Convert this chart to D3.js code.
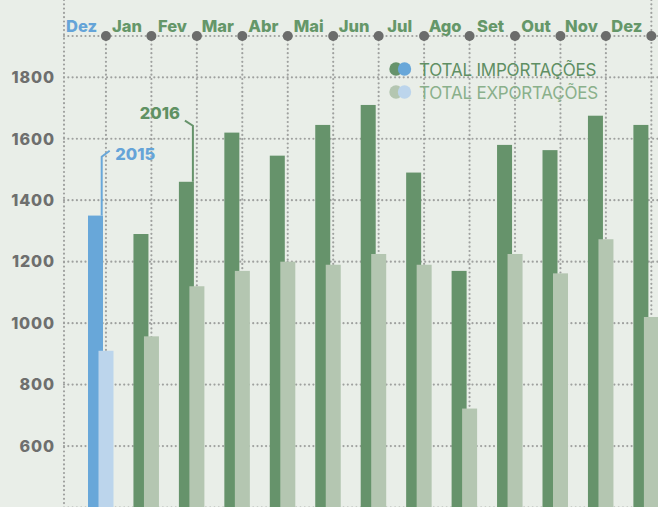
<!DOCTYPE html>
<html lang="pt">
<head>
<meta charset="UTF-8">
<title>Importações e exportações</title>
<script src="https://cdn.jsdelivr.net/npm/d3@7"></script>
<style>
  html, body { margin: 0; padding: 0; background: #e9eee8; }
  svg { display: block; }
  text { font-family: Inter, "Open Sans", sans-serif; }
</style>
</head>
<body>
<div id="chart"></div>
<script>
// months: Dez/2015 + Jan..Dez/2016
const months = ["Dez", "Jan", "Fev", "Mar", "Abr", "Mai", "Jun", "Jul", "Ago", "Set", "Out", "Nov", "Dez"];
const years = [2015, 2016, 2016, 2016, 2016, 2016, 2016, 2016, 2016, 2016, 2016, 2016, 2016];
const importacoes = [1350, 1290, 1460, 1620, 1545, 1645, 1710, 1490, 1170, 1580, 1563, 1675, 1645];
const exportacoes = [910, 957, 1120, 1170, 1200, 1190, 1225, 1190, 722, 1225, 1162, 1273, 1020];
const yTicks = [600, 800, 1000, 1200, 1400, 1600, 1800];
const gridTicks = [400, 600, 800, 1000, 1200, 1400, 1600, 1800];
const legendLabels = ["TOTAL IMPORTAÇÕES", "TOTAL EXPORTAÇÕES"];

const width = 658;
const height = 507;
const axisTop = 36;
const frameLeft = 64;

const colors = {
    2015: { imp: "#68a7d9", exp: "#bcd5ec", text: "#65a4d8" },
    2016: { imp: "#66936b", exp: "#b4c6b1", text: "#659769" }
};
const gridColor = "#9fa19f";

const x = d3.scaleBand()
    .domain(d3.range(months.length))
    .range([60.5, 60.5 + 13 * 45.45]);

const y = d3.scaleLinear()
    .domain([400, 1800])
    .range([507.5, 77.3]);

const barW = 15;
const barOff = 27.5;   // dark bar start inside band
const expOff = 10.5;   // light bar shift from dark bar

const svg = d3.select("#chart").append("svg")
    .attr("width", width)
    .attr("height", height);

svg.append("rect")
    .attr("width", width)
    .attr("height", height)
    .attr("fill", "#e9eee8");

const dotted = sel => sel
    .attr("stroke", gridColor)
    .attr("stroke-width", 2.2)
    .attr("stroke-linecap", "round")
    .attr("stroke-dasharray", "0,4.3")
    .attr("fill", "none");

// horizontal grid
svg.append("g")
    .selectAll("line")
    .data(gridTicks)
    .join("line")
    .attr("x1", frameLeft)
    .attr("x2", width)
    .attr("y1", d => y(d))
    .attr("y2", d => y(d))
    .call(dotted);

// vertical grid at band ends
svg.append("g")
    .selectAll("line")
    .data(d3.range(months.length))
    .join("line")
    .attr("x1", d => x(d) + x.step())
    .attr("x2", d => x(d) + x.step())
    .attr("y1", d => d === months.length - 1 ? 0 : axisTop)
    .attr("y2", height)
    .call(dotted);

// left frame line
svg.append("line")
    .attr("x1", frameLeft).attr("x2", frameLeft)
    .attr("y1", 0).attr("y2", height)
    .call(dotted);

// top axis line
svg.append("line")
    .attr("x1", frameLeft).attr("x2", width)
    .attr("y1", axisTop).attr("y2", axisTop)
    .call(dotted);

// bars
const bars = svg.append("g");
bars.selectAll("rect.imp")
    .data(importacoes)
    .join("rect")
    .attr("class", "imp")
    .attr("x", (d, i) => x(i) + barOff)
    .attr("y", d => y(d))
    .attr("width", barW)
    .attr("height", d => height - y(d) + 5)
    .attr("fill", (d, i) => colors[years[i]].imp);

bars.selectAll("rect.exp")
    .data(exportacoes)
    .join("rect")
    .attr("class", "exp")
    .attr("x", (d, i) => x(i) + barOff + expOff)
    .attr("y", d => y(d))
    .attr("width", barW)
    .attr("height", d => height - y(d) + 5)
    .attr("fill", (d, i) => colors[years[i]].exp);

// top axis dots
svg.append("g")
    .selectAll("circle")
    .data(d3.range(months.length))
    .join("circle")
    .attr("cx", d => x(d) + x.step())
    .attr("cy", axisTop)
    .attr("r", 5)
    .attr("fill", "#6b6c6b");

// month labels
svg.append("g")
    .selectAll("text")
    .data(months)
    .join("text")
    .attr("x", (d, i) => x(i) + 21)
    .attr("y", 31.5)
    .attr("text-anchor", "middle")
    .attr("font-size", 16.5)
    .attr("font-weight", 800)
    .attr("fill", (d, i) => colors[years[i]].text)
    .text(d => d);

// y labels
svg.append("g")
    .selectAll("text")
    .data(yTicks)
    .join("text")
    .attr("x", 55)
    .attr("y", d => y(d))
    .attr("dy", "0.36em")
    .attr("text-anchor", "end")
    .attr("font-size", 16)
    .attr("font-weight", 800)
    .attr("letter-spacing", 0.9)
    .attr("fill", "#6e6f6e")
    .text(d => d);

// year annotations
const lx15 = x(0) + barOff + 13.7;
svg.append("path")
    .attr("d", `M${lx15},${y(importacoes[0])}V156.7L${lx15 + 8},150.7`)
    .attr("stroke", colors[2015].imp)
    .attr("stroke-width", 2)
    .attr("fill", "none");
svg.append("text")
    .attr("x", lx15 + 13.5)
    .attr("y", 160)
    .attr("font-size", 16.5)
    .attr("font-weight", 800)
    .attr("fill", colors[2015].text)
    .text("2015");

const lx16 = x(2) + barOff + 14;
svg.append("path")
    .attr("d", `M${lx16},${y(importacoes[2])}V125.7L${lx16 - 8},120.7`)
    .attr("stroke", colors[2016].imp)
    .attr("stroke-width", 2)
    .attr("fill", "none");
svg.append("text")
    .attr("x", lx16 - 13)
    .attr("y", 119.3)
    .attr("text-anchor", "end")
    .attr("font-size", 16.5)
    .attr("font-weight", 800)
    .attr("fill", "#5f9163")
    .text("2016");

// legend
const legend = svg.append("g");
const legendRows = [
    { label: legendLabels[0], a: colors[2016].imp, b: colors[2015].imp, text: "#5f8f63", y: 69 },
    { label: legendLabels[1], a: colors[2016].exp, b: colors[2015].exp, text: "#8ab08b", y: 92 }
];
legendRows.forEach(r => {
    legend.append("circle").attr("cx", 396).attr("cy", r.y).attr("r", 6.7).attr("fill", r.a);
    legend.append("circle").attr("cx", 404.5).attr("cy", r.y).attr("r", 6.7).attr("fill", r.b);
    legend.append("text")
        .attr("x", 419)
        .attr("y", r.y + 6.5)
        .attr("font-size", 17)
        .attr("letter-spacing", -0.2)
        .attr("fill", r.text)
        .text(r.label);
});
</script>
</body>
</html>
